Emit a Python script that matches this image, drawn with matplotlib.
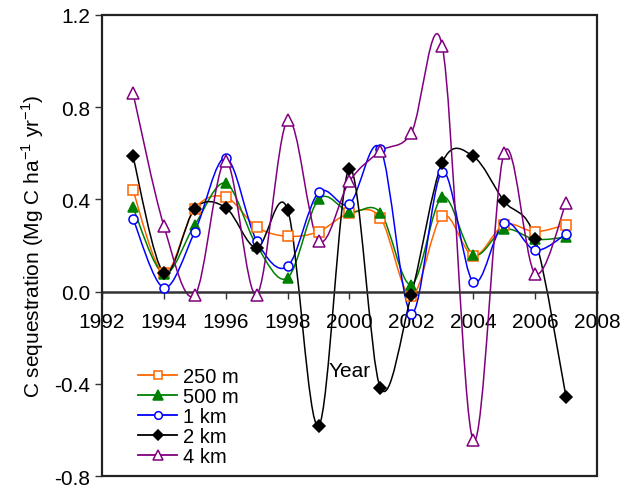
import matplotlib
matplotlib.use("Agg")
import matplotlib.pyplot as plt
from matplotlib.path import Path
from matplotlib.patches import PathPatch, Rectangle
from matplotlib.lines import Line2D
import numpy as np

plt.rcParams['font.family'] = ['Liberation Sans', 'DejaVu Sans']

# data
years = [1993, 1994, 1995, 1996, 1997, 1998, 1999, 2000,
         2001, 2002, 2003, 2004, 2005, 2006, 2007]
m250 = [0.44, 0.08, 0.36, 0.41, 0.28, 0.24, 0.26, 0.34,
        0.32, -0.02, 0.33, 0.155, 0.29, 0.26, 0.29]
m500 = [0.365, 0.078, 0.29, 0.47, 0.20, 0.06, 0.40, 0.345,
        0.343, 0.03, 0.41, 0.16, 0.27, 0.227, 0.236]
km1 = [0.317, 0.017, 0.26, 0.58, 0.22, 0.11, 0.43, 0.38,
       0.62, -0.095, 0.52, 0.042, 0.298, 0.18, 0.25]
km2 = [0.587, 0.081, 0.36, 0.364, 0.19, 0.356, -0.583, 0.534,
       -0.418, -0.013, 0.56, 0.587, 0.392, 0.23, -0.457]
km4 = [0.863, 0.285, -0.016, 0.567, -0.013, 0.743, 0.22, 0.479,
       0.609, 0.689, 1.064, -0.645, 0.603, 0.078, 0.386]

labels = ['250 m', '500 m', '1 km', '2 km', '4 km']
series = [m250, m500, km1, km2, km4]
colors = ['#FF6600', '#008000', '#0000FF', '#000000', '#800080']
markers = ['s', '^', 'o', 'D', '^']
filled = [False, True, False, True, False]
msizes = [7, 7.5, 6.5, 6, 8]


def smooth_path(x, y):
    # Catmull-Rom style bezier, like a spreadsheet "smoothed line"
    pts = np.column_stack([x, y]).astype(float)
    n = len(pts)
    verts = [pts[0]]
    codes = [Path.MOVETO]
    for i in range(n - 1):
        p0 = pts[max(i - 1, 0)]
        p1 = pts[i]
        p2 = pts[i + 1]
        p3 = pts[min(i + 2, n - 1)]
        verts += [p1 + (p2 - p0) / 6, p2 - (p3 - p1) / 6, p2]
        codes += [Path.CURVE4] * 3
    return Path(verts, codes)


fig = plt.figure(figsize=(6.28, 4.89), dpi=100)
ax = fig.add_axes([0.1624, 0.0245, 0.7882, 0.9428])

handles = []
for vals, lab, c, m, f, ms in zip(series, labels, colors, markers, filled, msizes):
    ax.add_patch(PathPatch(smooth_path(years, vals), fill=False,
                           edgecolor=c, lw=1.1, zorder=2))
    fc = c if f else 'white'
    ax.plot(years, vals, linestyle='none', marker=m, markersize=ms,
            markerfacecolor=fc, markeredgecolor=c, markeredgewidth=1.1, zorder=3)
    handles.append(Line2D([], [], color=c, lw=1.3, marker=m, markersize=ms - 1,
                          markerfacecolor=fc, markeredgecolor=c,
                          markeredgewidth=1.1, label=lab))

ax.set_xlim(1992, 2008)
ax.set_ylim(-0.8, 1.2)
ax.set_xticks(np.arange(1992, 2009, 2))
ax.set_yticks(np.arange(-0.8, 1.21, 0.4))
ax.set_yticklabels(['%.1f' % v for v in np.arange(-0.8, 1.21, 0.4)])

for s in ['top', 'right']:
    ax.spines[s].set_visible(False)
ax.spines['bottom'].set_position(('data', 0))
ax.spines['bottom'].set_linewidth(1.8)
ax.spines['bottom'].set_color('#333333')
ax.spines['left'].set_linewidth(1.2)
ax.add_patch(Rectangle((0, 0), 1, 1, transform=ax.transAxes, fill=False,
                       edgecolor='#222222', lw=1.6, clip_on=False, zorder=5))

ax.tick_params(axis='both', labelsize=15, direction='out', length=5,
               width=1, color='#333333')
ax.tick_params(axis='x', pad=10)

ax.set_xlabel('Year', fontsize=15)
ax.xaxis.set_label_coords(0.5, 0.25)
ax.set_ylabel('C sequestration (Mg C ha$^{\\mathregular{-1}}$ yr$^{\\mathregular{-1}}$)',
              fontsize=15)
ax.yaxis.set_label_coords(-0.114, 0.5)

ax.legend(handles=handles, loc='upper left', bbox_to_anchor=(0.073, 0.236),
          frameon=False, fontsize=14.5, labelspacing=0.05, handlelength=1.95,
          handletextpad=0.3, borderaxespad=0, borderpad=0)

fig.savefig('out.png', dpi=100)
